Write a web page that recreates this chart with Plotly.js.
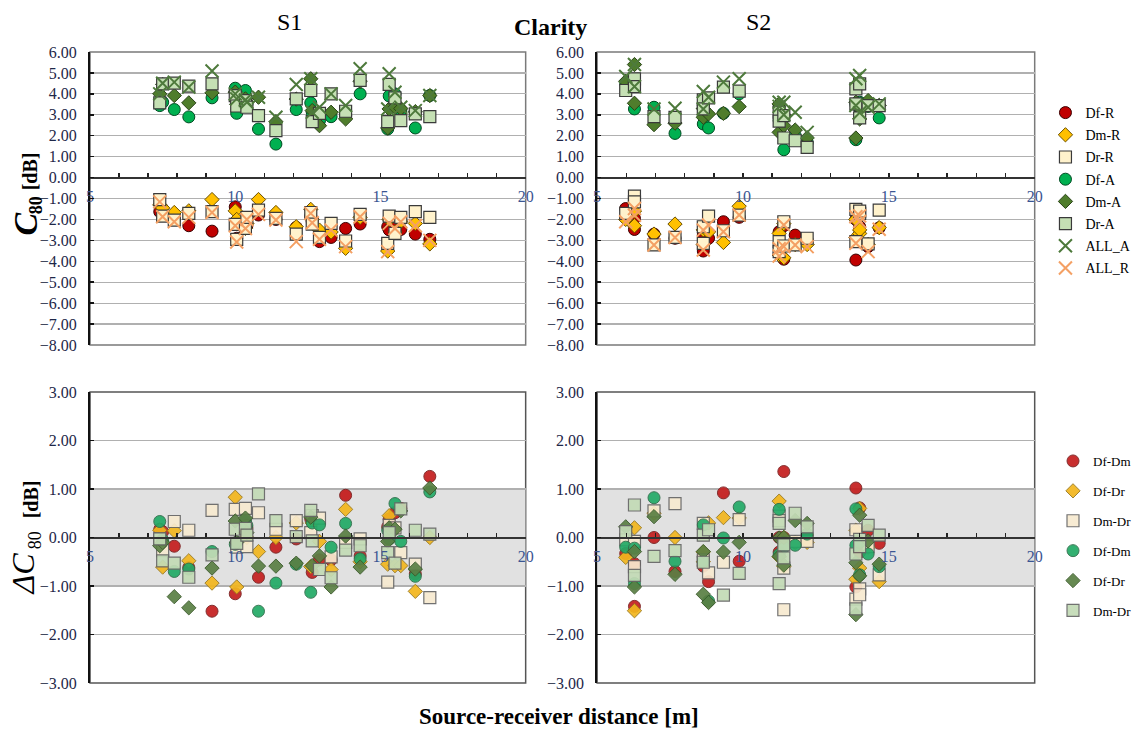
<!DOCTYPE html>
<html>
<head>
<meta charset="utf-8">
<script src="https://cdn.plot.ly/plotly-3.0.1.min.js"></script>
<style>html,body{margin:0;padding:0;background:#fff;}#chart{width:1137px;height:731px;}</style>
</head>
<body>
<div id="chart"></div>
<script>
// ---------------- DATA ----------------
// Source-receiver distances [m]
const S1_X = [7.4, 7.5, 7.9, 8.4, 9.2, 10.0, 10.05, 10.35, 10.4, 10.8, 11.4, 12.1, 12.6, 12.65, 12.9, 13.3, 13.8, 14.3, 15.25, 15.3, 15.5, 15.7, 16.2, 16.7];
const S2_X = [5.98, 6.28, 6.28, 6.95, 7.67, 8.64, 8.64, 8.82, 9.33, 9.87, 11.24, 11.24, 11.4, 11.4, 11.79, 12.2, 13.87, 13.87, 14.0, 14.0, 14.29, 14.67];

// C80 [dB], S1
const DfR_S1 = [-1.63, -1.5, -2.0, -2.3, -2.56, -1.4, -2.9, -2.19, -2.3, -1.79, -2.0, -2.38, -1.84, -2.1, -3.06, -2.86, -2.43, -2.22, -2.35, -2.5, -2.11, -2.48, -2.7, -2.95];
const DmR_S1 = [-1.3, -1.45, -1.67, -1.59, -1.05, -1.59, -2.0, -2.43, -2.2, -1.05, -1.67, -2.35, -1.52, -2.0, -2.51, -2.6, -3.38, -1.9, -3.51, -2.0, -2.6, -2.1, -2.19, -3.17];
const DrR_S1 = [-1.05, -1.84, -2.03, -1.71, -1.63, -2.24, -2.95, -2.43, -1.9, -1.56, -1.95, -2.7, -1.67, -2.22, -2.86, -2.19, -3.03, -1.76, -3.14, -1.84, -2.67, -1.9, -1.63, -1.9];
const DfA_S1 = [3.44, 3.6, 3.25, 2.9, 3.81, 4.27, 3.07, 4.16, 3.5, 2.32, 1.6, 3.25, 3.57, 3.12, 2.72, 2.91, 2.96, 4.0, 2.32, 3.9, 4.0, 3.23, 2.37, 3.92];
const DmA_S1 = [4.0, 4.45, 3.92, 3.57, 4.05, 4.08, 3.5, 3.76, 3.6, 3.84, 2.67, 3.75, 4.72, 3.2, 2.48, 3.12, 2.8, 4.6, 2.37, 3.28, 3.36, 3.3, 3.15, 3.92];
const DrA_S1 = [3.57, 4.48, 4.51, 4.37, 4.48, 3.92, 3.42, 3.68, 3.36, 2.96, 2.24, 3.76, 4.16, 2.67, 3.07, 4.0, 3.17, 4.64, 2.67, 4.45, 3.81, 2.72, 3.04, 2.91];
const ALLA_S1 = [4.0, 4.51, 4.56, 4.32, 5.09, 4.0, 3.76, 3.71, 3.6, 3.84, 2.88, 4.45, 4.72, 3.12, 3.36, 4.0, 3.44, 5.2, 3.28, 4.96, 4.08, 3.36, 3.2, 3.92];
const ALLR_S1 = [-1.16, -1.87, -2.11, -1.9, -1.67, -2.3, -3.08, -2.43, -2.0, -1.76, -2.03, -3.06, -1.71, -2.16, -2.95, -2.51, -3.3, -1.87, -3.54, -2.19, -2.43, -2.11, -2.3, -3.0];

// C80 [dB], S2
const DfR_S2 = [-1.48, -1.95, -2.48, -2.7, -2.9, -3.51, -2.75, -2.9, -2.11, -1.9, -2.59, -3.6, -3.9, -2.3, -2.75, -3.0, -3.94, -2.0, -2.35, -2.47, -3.3, -2.4];
const DmR_S2 = [-2.0, -1.6, -2.3, -2.7, -2.22, -3.2, -2.5, -2.6, -3.1, -1.37, -2.67, -3.7, -3.83, -2.2, -3.2, -3.2, -2.87, -2.0, -2.67, -2.5, -3.2, -2.39];
const DrR_S2 = [-1.71, -0.89, -1.16, -3.22, -2.86, -2.35, -3.14, -1.84, -2.54, -1.79, -3.06, -3.54, -3.27, -2.11, -3.22, -2.9, -1.52, -3.06, -1.71, -1.6, -3.17, -1.56];
const DfA_S2 = [4.5, 3.28, 4.4, 3.36, 2.11, 2.56, 3.3, 2.37, 3.07, 4.0, 2.72, 3.4, 1.33, 2.9, 2.0, 1.68, 1.81, 3.5, 3.6, 3.3, 3.4, 2.85];
const DmA_S2 = [4.6, 5.4, 3.55, 2.53, 2.6, 2.88, 3.3, 3.04, 3.07, 3.39, 3.52, 2.16, 2.48, 3.0, 2.27, 1.9, 1.89, 3.6, 3.3, 2.8, 3.68, 3.45];
const DrA_S2 = [4.16, 4.72, 4.35, 2.91, 2.88, 3.71, 3.28, 3.81, 4.32, 4.13, 3.12, 2.7, 2.96, 1.89, 1.76, 1.44, 4.24, 3.52, 4.48, 2.85, 3.44, 3.44];
const ALLA_S2 = [4.83, 5.4, 4.35, 3.28, 3.31, 4.11, 3.28, 3.84, 4.56, 4.72, 3.6, 3.4, 3.6, 3.0, 3.12, 2.16, 4.72, 3.44, 4.88, 3.1, 3.36, 3.52];
const ALLR_S2 = [-2.11, -1.48, -1.8, -3.22, -2.86, -2.51, -3.46, -2.27, -2.59, -1.79, -3.4, -3.75, -3.3, -2.27, -3.22, -3.3, -1.87, -3.14, -1.83, -2.1, -3.54, -2.47];

// Delta C80 [dB], S1
const dDfDmR_S1 = [0.17, 0.12, -0.18, -0.62, -1.52, -1.16, -0.1, 0.3, 0.2, -0.82, -0.2, -0.03, 0.38, -0.72, -0.46, -0.46, 0.87, -0.38, 0.22, 0.38, 0.51, 0.6, -0.75, 1.26];
const dDfDrR_S1 = [0.15, -0.61, 0.14, -0.48, -0.94, 0.83, -1.02, 0.1, 0.0, -0.29, 0.0, 0.3, -0.6, 0.3, -0.08, -0.66, 0.58, -0.5, -0.55, 0.45, -0.58, -0.58, -1.11, 0.0];
const dDmDrR_S1 = [-0.03, -0.27, 0.33, 0.15, 0.56, 0.58, -0.2, 0.6, -0.19, 0.51, 0.17, 0.35, 0.1, 0.45, 0.4, -0.4, -0.1, -0.03, -0.92, 0.25, 0.2, -0.31, -0.55, -1.24];
const dDfDmA_S1 = [0.33, -0.05, -0.7, -0.65, -0.29, -0.14, -0.1, 0.34, 0.25, -1.52, -0.94, -0.55, -1.13, 0.3, 0.26, -0.2, 0.29, -0.44, 0.15, -0.03, 0.7, -0.08, -0.8, 0.94];
const dDfDrA_S1 = [-0.17, -0.1, -1.22, -1.45, -0.63, 0.34, -0.1, 0.4, 0.1, -0.59, -0.59, -0.53, 0.42, -0.58, -0.38, -1.02, 0.03, -0.61, -0.08, 0.2, 0.17, 0.55, -0.65, 1.02];
const dDmDrA_S1 = [-0.03, -0.48, -0.53, -0.82, -0.36, 0.17, -0.12, 0.19, 0.05, 0.9, 0.35, 0.02, 0.56, -0.07, -0.66, -0.83, -0.26, -0.17, -0.31, 0.1, -0.53, 0.59, 0.15, 0.07];

// Delta C80 [dB], S2
const dDfDmR_S2 = [-0.33, -0.54, -1.42, 0.0, -0.7, -0.59, -0.4, -0.91, 0.92, -0.49, -0.3, 0.0, 1.36, 0.0, -0.1, 0.05, 1.02, -1.02, 0.61, -0.3, 0.15, -0.12];
const dDfDrR_S2 = [-0.41, 0.2, -1.51, 0.5, 0.0, -0.3, -0.5, 0.3, 0.41, 0.4, 0.75, -0.4, -0.6, 0.0, -0.1, -0.1, -0.86, 0.15, -0.63, 0.6, -0.2, -0.91];
const dDmDrR_S2 = [-0.05, -0.08, -0.6, 0.55, 0.7, -0.46, 0.29, -0.73, -0.51, 0.37, 0.44, 0.35, -0.63, -1.49, -0.08, -0.08, 0.16, -1.27, -1.06, -1.18, -0.19, -0.77];
const dDfDmA_S2 = [-0.2, -0.22, -0.95, 0.82, -0.49, 0.26, -0.5, -1.31, -0.01, 0.63, 0.58, -0.35, -0.1, -0.2, -0.16, 0.07, -0.16, 0.59, -0.77, -0.1, -0.34, -0.6];
const dDfDrA_S2 = [0.22, -0.29, -1.02, 0.43, -0.76, -0.29, -1.17, -1.34, -0.3, -0.1, -0.01, -0.39, -0.57, 0.0, 0.35, 0.29, -0.52, -1.59, 0.46, -0.79, -0.07, -0.55];
const dDmDrA_S2 = [0.12, 0.67, -0.78, -0.39, -0.27, 0.05, -0.51, 0.16, -1.19, -0.74, 0.29, -0.95, -0.15, -0.42, 0.5, 0.22, -0.34, -1.47, -0.04, -0.19, 0.25, 0.05];

const X_TICKS = [5, 6, 7, 8, 9, 10, 11, 12, 13, 14, 15, 16, 17, 18, 19, 20];
const X_TICK_TEXT = ['5', '', '', '', '', '10', '', '', '', '', '15', '', '', '', '', '20'];
const TOP_NAMES = ['Df-R', 'Dm-R', 'Dr-R', 'Df-A', 'Dm-A', 'Dr-A', 'ALL_A', 'ALL_R'];
const BOT_NAMES = ['Df-Dm', 'Df-Dr', 'Dm-Dr', 'Df-Dm', 'Df-Dr', 'Dm-Dr'];

// ---------------- STYLES ----------------
const topStyles = [
  {symbol: 'circle', size: 12, color: '#c00000', line: {color: '#3a0000', width: 1}},
  {symbol: 'diamond', size: 11, color: '#ffc000', line: {color: '#6b5000', width: 1}},
  {symbol: 'square', size: 12, color: '#fff2cc', line: {color: '#3a3a3a', width: 1.2}},
  {symbol: 'circle', size: 12, color: '#00b050', line: {color: '#004a22', width: 1}},
  {symbol: 'diamond', size: 11, color: '#4f7d2c', line: {color: '#2a4418', width: 1}},
  {symbol: 'square', size: 12, color: '#c5e0b4', line: {color: '#3a3a3a', width: 1.2}},
  {symbol: 'x-thin', size: 13, color: '#4e7a3c', line: {color: '#4e7a3c', width: 2}},
  {symbol: 'x-thin', size: 13, color: '#f4a064', line: {color: '#f4a064', width: 2}}
];
const botStyles = [
  {symbol: 'circle', size: 12, color: '#c41e1e', line: {color: '#7a2020', width: 1}},
  {symbol: 'diamond', size: 11, color: '#f2b61e', line: {color: '#9a7a20', width: 1}},
  {symbol: 'square', size: 12, color: '#f7ead0', line: {color: '#666666', width: 1.2}},
  {symbol: 'circle', size: 12, color: '#22aa66', line: {color: '#2f6e4a', width: 1}},
  {symbol: 'diamond', size: 11, color: '#5a7f44', line: {color: '#3a5a2a', width: 1}},
  {symbol: 'square', size: 12, color: '#c3dbb6', line: {color: '#666666', width: 1.2}}
];

const topS1 = [DfR_S1, DmR_S1, DrR_S1, DfA_S1, DmA_S1, DrA_S1, ALLA_S1, ALLR_S1];
const topS2 = [DfR_S2, DmR_S2, DrR_S2, DfA_S2, DmA_S2, DrA_S2, ALLA_S2, ALLR_S2];
const botS1 = [dDfDmR_S1, dDfDrR_S1, dDmDrR_S1, dDfDmA_S1, dDfDrA_S1, dDmDrA_S1];
const botS2 = [dDfDmR_S2, dDfDrR_S2, dDmDrR_S2, dDfDmA_S2, dDfDrA_S2, dDmDrA_S2];

const traces = [];
function addTrace(name, x, y, xa, ya, st, legend, show, group, opacity) {
  traces.push({
    type: 'scatter', mode: 'markers', name: name, x: x, y: y,
    xaxis: xa, yaxis: ya, legend: legend, showlegend: show, legendgroup: group,
    opacity: opacity,
    marker: {symbol: st.symbol, size: st.size, color: st.color, line: st.line},
    hoverinfo: 'x+y+name'
  });
}
TOP_NAMES.forEach((n, i) => {
  addTrace(n, S1_X, topS1[i], 'x', 'y', topStyles[i], 'legend', true, 't' + i, 1);
  addTrace(n, S2_X, topS2[i], 'x2', 'y2', topStyles[i], 'legend', false, 't' + i, 1);
});
BOT_NAMES.forEach((n, i) => {
  addTrace(n, S1_X, botS1[i], 'x3', 'y3', botStyles[i], 'legend2', true, 'b' + i, 0.92);
  addTrace(n, S2_X, botS2[i], 'x4', 'y4', botStyles[i], 'legend2', false, 'b' + i, 0.92);
});

// ---------------- LAYOUT ----------------
const W = 1137, H = 731;
const px = v => v / W;
const py = v => 1 - v / H;
const FONT = 'Liberation Serif, Times New Roman, serif';
const topDomY = [py(345), py(52)];
const botDomY = [py(683), py(392)];
const leftDomX = [px(92), px(537)];
const rightDomX = [px(610), px(1057)];

function xAxis(dom, domY, yr) {
  const frac = (0 - yr[0]) / (yr[1] - yr[0]);
  return {
    domain: dom, range: [5, 20], anchor: 'free',
    position: domY[0] + frac * (domY[1] - domY[0]),
    tickmode: 'array', tickvals: X_TICKS, ticktext: X_TICK_TEXT,
    ticks: 'inside', ticklen: 4, tickwidth: 1.5, tickcolor: '#222',
    showline: true, linecolor: '#333', linewidth: 2,
    showgrid: false, zeroline: false, ticklabelstandoff: 4,
    tickfont: {family: FONT, size: 16, color: '#3a5592'}
  };
}
function yAxis(domY, yr, anchor) {
  return {
    domain: domY, range: yr, anchor: anchor, dtick: 1, tick0: 0, tickformat: '.2f',
    ticks: 'inside', ticklen: 4, tickwidth: 1.5, tickcolor: '#111',
    showline: true, linecolor: '#111', linewidth: 2,
    showgrid: true, gridcolor: '#b0b0b0', gridwidth: 1.2, zeroline: false,
    ticklabelstandoff: 8,
    tickfont: {family: FONT, size: 16, color: '#1e2748'}
  };
}
function ann(text, x, y, size, extra) {
  return Object.assign({
    text: text, x: px(x), y: py(y), xref: 'paper', yref: 'paper',
    xanchor: 'center', yanchor: 'middle', showarrow: false,
    font: {family: FONT, size: size, color: '#000'}
  }, extra || {});
}

const layout = {
  width: W, height: H,
  margin: {l: 0, r: 0, t: 0, b: 0},
  paper_bgcolor: '#ffffff', plot_bgcolor: 'rgba(0,0,0,0)',
  font: {family: FONT, color: '#000'},
  xaxis: xAxis(leftDomX, topDomY, [-8, 6]),
  yaxis: yAxis(topDomY, [-8, 6], 'x'),
  xaxis2: xAxis(rightDomX, topDomY, [-8, 6]),
  yaxis2: yAxis(topDomY, [-8, 6], 'x2'),
  xaxis3: xAxis(leftDomX, botDomY, [-3, 3]),
  yaxis3: yAxis(botDomY, [-3, 3], 'x3'),
  xaxis4: xAxis(rightDomX, botDomY, [-3, 3]),
  yaxis4: yAxis(botDomY, [-3, 3], 'x4'),
  showlegend: true,
  legend: {
    x: px(1068), y: py(97), xanchor: 'left', yanchor: 'top',
    bgcolor: 'rgba(0,0,0,0)', borderwidth: 0,
    font: {family: FONT, size: 14, color: '#000'},
    itemwidth: 30, traceorder: 'grouped', tracegroupgap: 1
  },
  legend2: {
    x: px(1076), y: py(446), xanchor: 'left', yanchor: 'top',
    bgcolor: 'rgba(0,0,0,0)', borderwidth: 0,
    font: {family: FONT, size: 13, color: '#000'},
    itemwidth: 30, traceorder: 'grouped', tracegroupgap: 10
  },
  shapes: [
    {type: 'rect', xref: 'x3', yref: 'y3', x0: 5, x1: 20, y0: -1, y1: 1, fillcolor: '#e1e1e1', line: {width: 0}, layer: 'below'},
    {type: 'rect', xref: 'x4', yref: 'y4', x0: 5, x1: 20, y0: -1, y1: 1, fillcolor: '#e1e1e1', line: {width: 0}, layer: 'below'},
    {type: 'rect', xref: 'x domain', yref: 'y domain', x0: 0, x1: 1, y0: 0, y1: 1, line: {color: '#7a7a7a', width: 1.5}, layer: 'below'},
    {type: 'rect', xref: 'x2 domain', yref: 'y2 domain', x0: 0, x1: 1, y0: 0, y1: 1, line: {color: '#7a7a7a', width: 1.5}, layer: 'below'},
    {type: 'rect', xref: 'x3 domain', yref: 'y3 domain', x0: 0, x1: 1, y0: 0, y1: 1, line: {color: '#555555', width: 1.5}, layer: 'below'},
    {type: 'rect', xref: 'x4 domain', yref: 'y4 domain', x0: 0, x1: 1, y0: 0, y1: 1, line: {color: '#555555', width: 1.5}, layer: 'below'}
  ],
  annotations: [
    ann('S1', 296, 22, 24),
    ann('<b>Clarity</b>', 562, 27, 24),
    ann('S2', 775, 22, 24),
    // top y-axis title: C80 [dB]
    ann('<b><i>C</i></b>', 26, 224, 34, {textangle: -90}),
    ann('<b>80</b>', 37, 205, 18, {textangle: -90}),
    ann('<b>[dB]</b>', 31, 171, 20, {textangle: -90}),
    // bottom y-axis title: ΔC80 [dB]
    ann('<i>\u0394C</i>', 23, 574, 32, {textangle: -90}),
    ann('80', 36, 540, 18, {textangle: -90}),
    ann('<b>[dB]</b>', 32, 499, 20, {textangle: -90}),
    ann('<b>Source-receiver distance [m]</b>', 571, 716, 23)
  ]
};

Plotly.newPlot('chart', traces, layout, {staticPlot: true, displayModeBar: false});
</script>
</body>
</html>
